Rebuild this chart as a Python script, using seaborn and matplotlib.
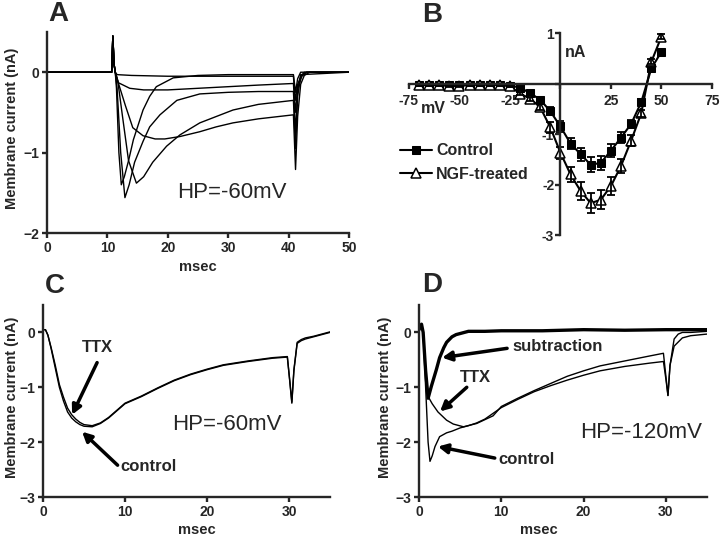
import matplotlib
matplotlib.use("Agg")
import matplotlib.pyplot as plt
import seaborn as sns

# Panel A - current family at HP=-60mV (time in msec, current in nA)
a_t1 = [0, 10.7, 10.9, 11.1, 11.3, 11.6, 14, 20, 30, 40.8, 41.1, 41.5, 42.2, 43, 50]
a_i1 = [0, 0, 0.45, 0.1, 0, -0.03, -0.04, -0.05, -0.05, -0.05, -0.35, -0.15, -0.03, 0, 0]
a_t2 = [0, 10.7, 10.9, 11.1, 11.3, 11.8, 13.7, 16, 20, 25, 30, 35, 40.8, 41.1, 41.5, 42.2, 43, 50]
a_i2 = [0, 0, 0.45, 0.1, 0, -0.13, -0.2, -0.22, -0.22, -0.2, -0.18, -0.16, -0.14, -0.5, -0.2, -0.05, 0, 0]
a_t3 = [0, 10.7, 10.9, 11.1, 11.3, 11.75, 13, 14.2, 15.9, 17.9, 19.5, 22, 25.3, 28, 30.8, 35, 40.8,
        41.15, 41.5, 42, 42.6, 43.5, 50]
a_i3 = [0, 0, 0.45, 0.1, 0, -0.12, -0.42, -0.69, -0.79, -0.83, -0.83, -0.8, -0.74, -0.68, -0.63, -0.58, -0.53,
        -1.21, -0.55, -0.15, -0.04, 0, 0]
a_t4 = [0, 10.7, 10.9, 11.1, 11.3, 11.7, 12.5, 13.5, 14.8, 16, 17.5, 19.8, 22, 25.3, 30.8, 35, 40.8,
        41.15, 41.5, 42, 42.6, 50]
a_i4 = [0, 0, 0.45, 0.1, 0, -0.1, -0.55, -1.1, -1.38, -1.3, -1.12, -0.92, -0.78, -0.63, -0.47, -0.4, -0.35,
        -0.95, -0.3, -0.06, 0, 0]
a_t5 = [0, 10.7, 10.9, 11.1, 11.3, 11.6, 12.2, 12.9, 13.6, 14.5, 15.9, 17, 18.7, 21.5, 25.3, 30, 35, 40.8,
        41.15, 41.5, 42, 50]
a_i5 = [0, 0, 0.45, 0.1, 0, -0.2, -1.0, -1.56, -1.4, -1.12, -0.86, -0.68, -0.53, -0.35, -0.27, -0.25, -0.24, -0.24,
        -0.75, -0.22, -0.03, 0]
a_t6 = [0, 10.7, 10.9, 11.1, 11.3, 11.5, 11.9, 12.3, 12.8, 13.5, 14.3, 15.9, 17, 18.1, 20.9, 25, 30, 40.8,
        41.15, 41.5, 42, 50]
a_i6 = [0, 0, 0.45, 0.1, 0, -0.2, -1.0, -1.4, -1.3, -1.1, -0.84, -0.47, -0.3, -0.18, -0.07, -0.04, -0.03, -0.03,
        -0.25, -0.08, 0, 0]

# Panel B - I-V curves (mV, nA, SEM)
mv = [-70, -65, -60, -55, -50, -45, -40, -35, -30, -25, -20, -15, -10, -5, 0, 5, 10, 15, 20, 25, 30, 35, 40, 45, 50]
ctrl = [-0.03, -0.03, -0.03, -0.03, -0.03, -0.02, -0.02, -0.02, -0.03, -0.04, -0.08, -0.19, -0.32, -0.55, -0.85,
        -1.19, -1.4, -1.61, -1.57, -1.33, -1.07, -0.8, -0.37, 0.3, 0.63]
ctrl_se = [0.02, 0.02, 0.02, 0.02, 0.02, 0.02, 0.02, 0.02, 0.02, 0.02, 0.03, 0.04, 0.05, 0.08, 0.1,
           0.11, 0.13, 0.15, 0.14, 0.13, 0.11, 0.08, 0.06, 0.05, 0.05]
ngf = [-0.03, -0.03, -0.03, -0.05, -0.05, -0.03, -0.02, -0.02, -0.03, -0.05, -0.2, -0.3, -0.47, -0.87, -1.37,
       -1.8, -2.13, -2.37, -2.3, -2.03, -1.63, -1.13, -0.59, 0.43, 0.93]
ngf_se = [0.02, 0.02, 0.02, 0.02, 0.02, 0.02, 0.02, 0.02, 0.02, 0.02, 0.03, 0.04, 0.06, 0.1, 0.12,
          0.15, 0.18, 0.2, 0.19, 0.17, 0.14, 0.11, 0.07, 0.05, 0.05]

# Panel C - HP=-60mV, control vs TTX
c_t = [0, 0.3, 0.6, 1, 1.5, 2, 2.5, 3, 3.5, 4, 4.5, 5, 6, 7, 8, 10, 12, 14, 16, 18, 20, 22, 25, 28,
       29.8, 30.1, 30.35, 30.6, 31, 31.5, 32, 33, 34, 35]
c_ctrl = [0.05, 0.05, -0.05, -0.3, -0.65, -1.0, -1.25, -1.45, -1.56, -1.63, -1.68, -1.71, -1.72, -1.66, -1.56,
          -1.3, -1.17, -1.02, -0.88, -0.77, -0.68, -0.6, -0.53, -0.47, -0.45, -0.9, -1.29, -0.7, -0.2, -0.15,
          -0.12, -0.08, -0.04, 0.0]
c_ttx = [0.05, 0.05, -0.05, -0.28, -0.6, -0.95, -1.18, -1.38, -1.5, -1.58, -1.64, -1.68, -1.7, -1.65, -1.55,
         -1.29, -1.16, -1.01, -0.87, -0.76, -0.67, -0.59, -0.52, -0.46, -0.44, -0.88, -1.27, -0.68, -0.18, -0.13,
         -0.1, -0.07, -0.03, 0.01]

# Panel D - HP=-120mV, control, TTX and subtraction
d_sub_t = [0, 0.3, 0.5, 0.8, 1.1, 1.5, 2.1, 2.5, 3.0, 3.35, 4, 4.5, 5, 6, 8, 10, 15, 20, 25, 30, 35]
d_sub = [0.05, 0.15, 0.0, -0.7, -1.2, -0.98, -0.68, -0.46, -0.28, -0.18, -0.08, -0.04, -0.02, 0.02, 0.02,
         0.03, 0.03, 0.05, 0.04, 0.05, 0.05]
d_ttx_t = [0, 0.3, 0.5, 0.8, 1.15, 1.6, 2.3, 3.35, 4.16, 5.4, 7, 9, 10, 12, 14, 16, 18, 20, 22, 25, 28,
           29.7, 30.0, 30.25, 30.5, 31, 31.5, 32, 33, 35]
d_ttx = [0.05, 0.15, 0.0, -0.7, -1.18, -1.3, -1.45, -1.6, -1.67, -1.72, -1.66, -1.52, -1.35, -1.2, -1.06, -0.93,
         -0.8, -0.7, -0.61, -0.52, -0.43, -0.38, -0.8, -1.15, -0.6, -0.12, -0.03, 0.0, 0.0, 0.02]
d_ctrl_t = [0, 0.3, 0.5, 0.8, 1.1, 1.33, 1.6, 1.94, 2.5, 3.35, 4, 5, 6, 7, 8, 10, 12, 14, 16, 18, 20, 22, 25, 28,
            29.7, 30.0, 30.25, 30.5, 31, 32, 33, 35]
d_ctrl = [0.05, 0.15, 0.0, -1.0, -2.0, -2.35, -2.25, -2.08, -1.9, -1.83, -1.8, -1.74, -1.7, -1.65, -1.58, -1.37,
          -1.22, -1.08, -0.97, -0.87, -0.78, -0.7, -0.62, -0.56, -0.53, -0.85, -1.15, -0.6, -0.25, -0.1, -0.06, -0.03]

sns.set_style("ticks")
plt.rcParams["font.family"] = ["Liberation Sans", "DejaVu Sans"]
plt.rcParams["font.weight"] = "bold"
plt.rcParams["axes.linewidth"] = 1.7
plt.rcParams["xtick.major.width"] = 1.7
plt.rcParams["ytick.major.width"] = 1.7
plt.rcParams["xtick.major.size"] = 3.5
plt.rcParams["ytick.major.size"] = 3.5
plt.rcParams["xtick.labelsize"] = 10
plt.rcParams["ytick.labelsize"] = 10

fig = plt.figure(figsize=(7.2, 5.4), dpi=100)
axA = fig.add_axes([0.0653, 0.5685, 0.4194, 0.3722])
axB = fig.add_axes([0.568, 0.5648, 0.4208, 0.374])
axC = fig.add_axes([0.0597, 0.0796, 0.3986, 0.3556])
axD = fig.add_axes([0.582, 0.0796, 0.4, 0.3556])

arrow = dict(arrowstyle="-|>,head_length=0.55,head_width=0.28", lw=2.5, color="black", shrinkA=0, shrinkB=0)


def trace(ax, t, i, lw=1.0):
    sns.lineplot(x=t, y=i, ax=ax, color="black", lw=lw, sort=False, estimator=None)


def style_trace_axis(ax, xmax, xticks, ymin, yticks):
    sns.despine(ax=ax)
    ax.set_xlim(0, xmax)
    ax.set_ylim(ymin, 0.5)
    ax.set_xticks(xticks)
    ax.set_yticks(yticks)
    ax.set_xlabel("")
    ax.set_ylabel("")
    ax.tick_params(pad=2)


# A
for t, i in [(a_t1, a_i1), (a_t2, a_i2), (a_t3, a_i3), (a_t4, a_i4), (a_t5, a_i5), (a_t6, a_i6)]:
    trace(axA, t, i)
style_trace_axis(axA, 50, [0, 10, 20, 30, 40, 50], -2, [-2, -1, 0])
axA.text(21.5, -1.49, "HP=-60mV", fontsize=16, fontweight="normal", va="center", ha="left")

# B
sns.lineplot(x=mv, y=ctrl, ax=axB, color="black", lw=1.5, marker="s", markersize=5.5,
             markeredgecolor="black", label="Control")
sns.lineplot(x=mv, y=ngf, ax=axB, color="black", lw=1.5, marker="^", markersize=7.5,
             markerfacecolor="white", markeredgecolor="black", markeredgewidth=1.1, label="NGF-treated")
axB.errorbar(mv, ctrl, yerr=ctrl_se, fmt="none", ecolor="black", elinewidth=1.3, capsize=3, capthick=1.3)
axB.errorbar(mv, ngf, yerr=ngf_se, fmt="none", ecolor="black", elinewidth=1.3, capsize=3, capthick=1.3)
axB.spines["left"].set_position(("data", 0))
axB.spines["bottom"].set_position(("data", 0))
axB.spines["top"].set_visible(False)
axB.spines["right"].set_visible(False)
axB.set_xlim(-75, 75)
axB.set_ylim(-3, 1)
axB.set_xticks([-75, -50, -25, 0, 25, 50, 75])
axB.set_xticklabels(["-75", "-50", "-25", "", "25", "50", "75"])
axB.set_yticks([-3, -2, -1, 0, 1])
axB.set_yticklabels(["-3", "-2", "-1", "", "1"])
axB.tick_params(axis="x", pad=4)
axB.tick_params(axis="y", pad=1)
axB.set_xlabel("")
axB.set_ylabel("")
axB.text(-63, -0.5, "mV", fontsize=11.5, ha="center", va="center")
axB.text(7.5, 0.61, "nA", fontsize=11.5, ha="center", va="center")
axB.legend(loc="upper left", bbox_to_anchor=(0.555, 0.735), bbox_transform=fig.transFigure,
           frameon=False, fontsize=11.5, handlelength=2.0, handletextpad=0.3, labelspacing=0.55,
           borderpad=0, borderaxespad=0)

# C
trace(axC, c_t, c_ttx)
trace(axC, c_t, c_ctrl)
style_trace_axis(axC, 35, [0, 10, 20, 30], -3, [-3, -2, -1, 0])
axC.text(15.8, -1.68, "HP=-60mV", fontsize=16, fontweight="normal", va="center", ha="left")
axC.text(6.7, -0.27, "TTX", fontsize=12, ha="center", va="center")
axC.annotate("", xy=(3.55, -1.5), xytext=(6.6, -0.55), arrowprops=arrow)
axC.text(9.4, -2.45, "control", fontsize=12, ha="left", va="center")
axC.annotate("", xy=(4.77, -1.81), xytext=(9.1, -2.42), arrowprops=arrow)

# D
trace(axD, d_ttx_t, d_ttx)
trace(axD, d_ctrl_t, d_ctrl)
trace(axD, d_sub_t, d_sub, lw=2.4)
style_trace_axis(axD, 35, [0, 10, 20, 30], -3, [-3, -2, -1, 0])
axD.text(34.4, -1.82, "HP=-120mV", fontsize=16, fontweight="normal", va="center", ha="right")
axD.text(11.3, -0.26, "subtraction", fontsize=12, ha="left", va="center")
axD.annotate("", xy=(2.8, -0.46), xytext=(10.7, -0.29), arrowprops=arrow)
axD.text(6.8, -0.82, "TTX", fontsize=12, ha="center", va="center")
axD.annotate("", xy=(2.55, -1.44), xytext=(5.8, -1.0), arrowprops=arrow)
axD.text(9.6, -2.32, "control", fontsize=12, ha="left", va="center")
axD.annotate("", xy=(2.3, -2.08), xytext=(9.2, -2.29), arrowprops=arrow)

# panel letters and shared labels
for x, y, s in [(48, 14, "A"), (422, 15, "B"), (45, 286, "C"), (422, 285, "D")]:
    fig.text(x / 720, 1 - y / 540, s, fontsize=20, ha="left", va="center")
for x, y in [(12, 128), (12, 397), (385, 397)]:
    fig.text(x / 720, 1 - y / 540, "Membrane current (nA)", fontsize=10.5, rotation=90, ha="center", va="center")
for x, y in [(198, 267), (197, 530), (539, 530)]:
    fig.text(x / 720, 1 - y / 540, "msec", fontsize=10.5, ha="center", va="center")

fig.savefig("out.png", dpi=100)
